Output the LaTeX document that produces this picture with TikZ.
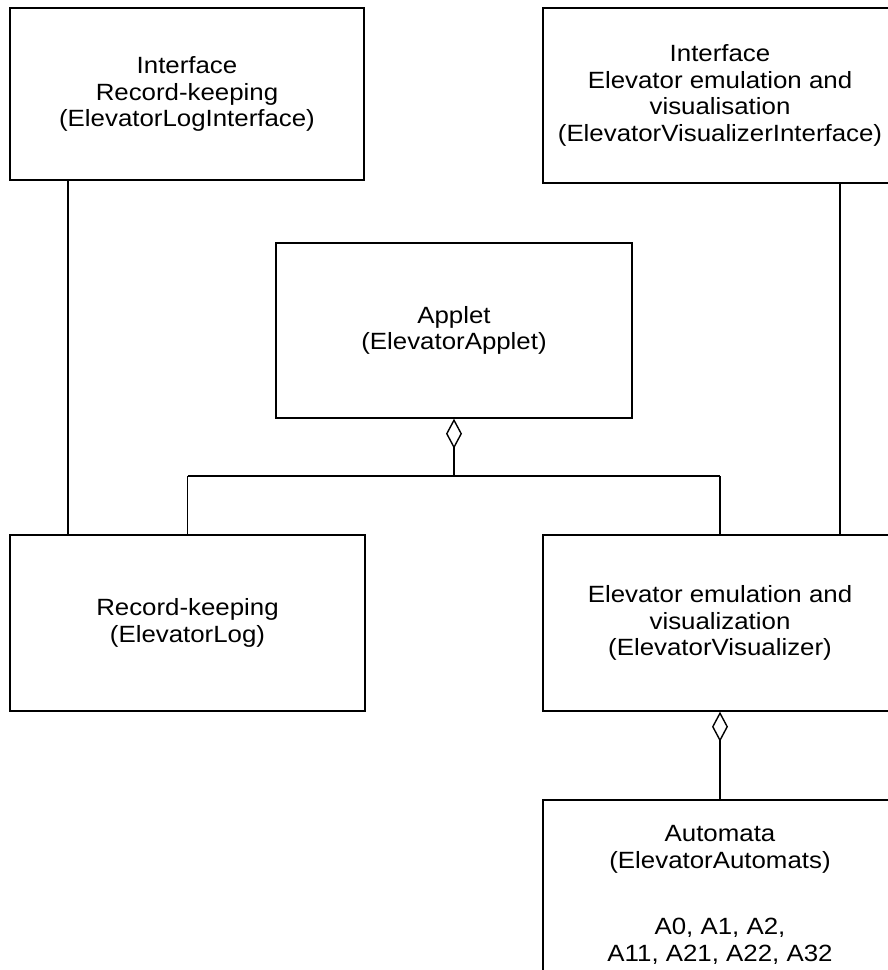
\documentclass[tikz,border=0pt]{standalone}
\usepackage{fontspec}
\setmainfont{Liberation Sans}[FakeStretch=1.1]
\usetikzlibrary{arrows.meta}

\tikzset{
  classbox/.style={draw, line width=1.4pt, rectangle, inner sep=0pt, align=center,
    font=\fontsize{23.5}{26.5}\selectfont},
  conn/.style={line width=1.4pt},
  aggr/.style={line width=1.4pt, {Diamond[open, length=30pt, width=16pt, line width=1.4pt]}-},
}

\begin{document}
\begin{tikzpicture}[x=1pt, y=-1pt]
  \useasboundingbox (0,0) rectangle (887,970);

  % class boxes
  \node[classbox, minimum width=354pt, minimum height=172pt] (logif) at (187,94)
    {Interface\\Record-keeping\\(ElevatorLogInterface)};
  \node[classbox, minimum width=354pt, minimum height=175pt] (visif) at (720,95.5)
    {Interface\\Elevator emulation and\\visualisation\\(ElevatorVisualizerInterface)};
  \node[classbox, minimum width=356pt, minimum height=175pt] (applet) at (454,330.5)
    {Applet\\(ElevatorApplet)};
  \node[classbox, minimum width=355pt, minimum height=176pt] (log) at (187.5,623)
    {Record-keeping\\(ElevatorLog)};
  \node[classbox, minimum width=354pt, minimum height=176pt] (vis) at (720,623)
    {Elevator emulation and\\visualization\\(ElevatorVisualizer)};
  \node[classbox, minimum width=354pt, minimum height=190pt] (auto) at (720,895)
    {Automata\\(ElevatorAutomats)\\[40pt]A0, A1, A2,\\A11, A21, A22, A32};

  % interface realisation lines
  \coordinate (lx) at (68,0);
  \coordinate (rx) at (840,0);
  \draw[conn] (logif.south -| lx) -- (log.north -| lx);
  \draw[conn] (visif.south -| rx) -- (vis.north -| rx);

  % aggregation of the applet
  \coordinate (bus) at (0,476);
  \draw[aggr] (applet.south) -- (applet.south |- bus);
  \draw[conn] (log.north |- bus) -- (vis.north |- bus);
  \draw[conn] (log.north |- bus) -- (log.north);
  \draw[conn] (vis.north |- bus) -- (vis.north);

  % aggregation of the automata
  \draw[aggr] (vis.south) -- (auto.north);
\end{tikzpicture}
\end{document}
